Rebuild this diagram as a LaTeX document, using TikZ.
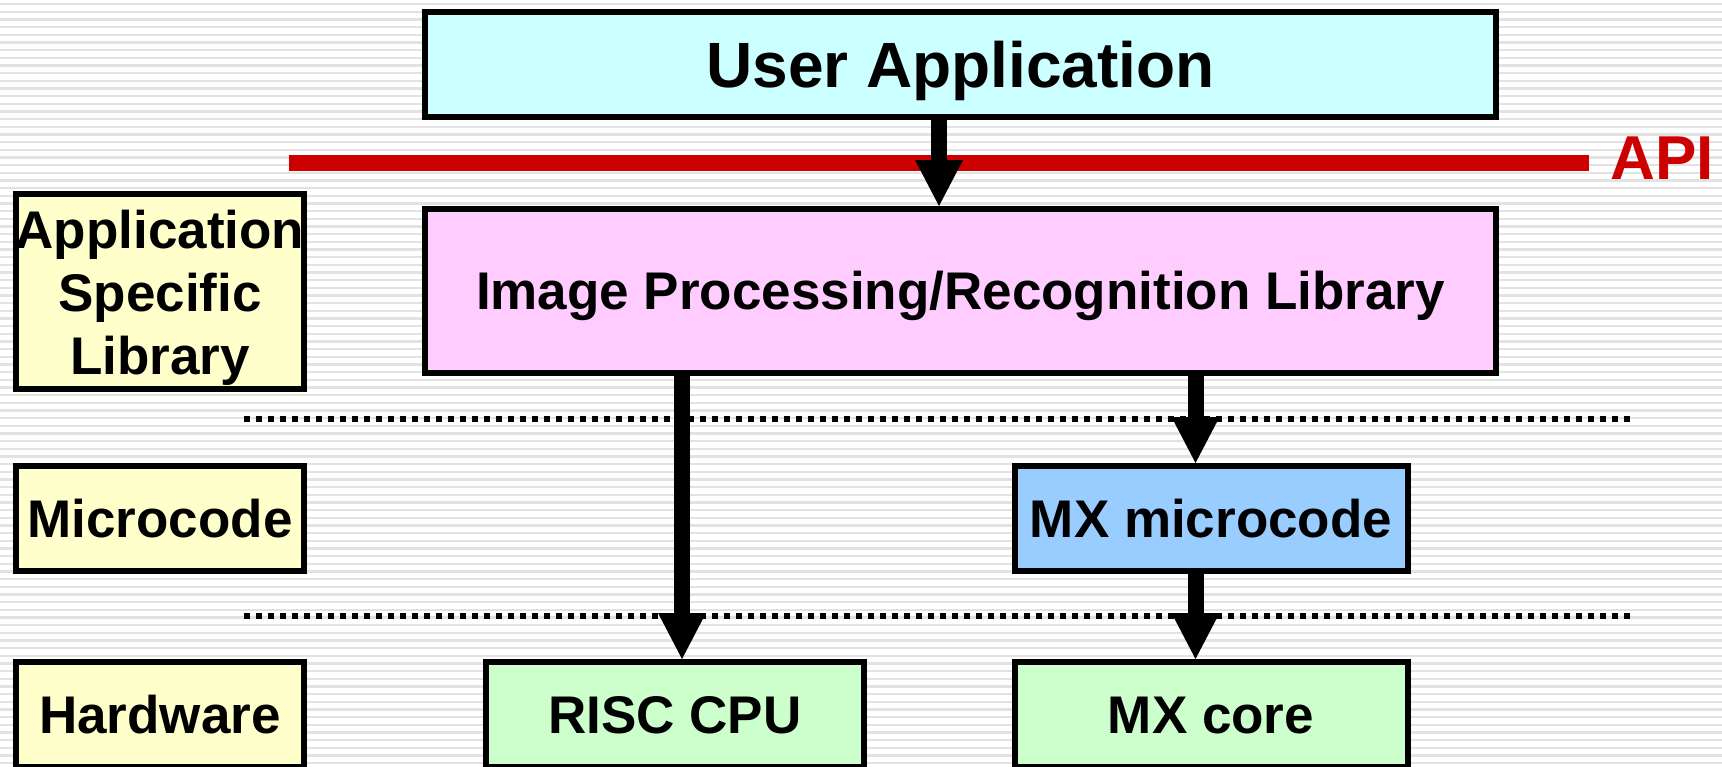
\documentclass[tikz,border=0pt]{standalone}
\usepackage{fontspec}
\setmainfont{Liberation Sans}
\usetikzlibrary{arrows.meta}
\definecolor{cyanbox}{HTML}{CCFFFF}
\definecolor{pinkbox}{HTML}{FFCCFF}
\definecolor{yellowbox}{HTML}{FFFFCC}
\definecolor{bluebox}{HTML}{99CCFF}
\definecolor{greenbox}{HTML}{CCFFCC}
\definecolor{apired}{HTML}{CC0000}
\definecolor{stripe}{HTML}{E2E2E2}
\tikzset{
  box/.style={draw=black, line width=3pt, inner sep=0pt, outer sep=1.5pt, align=center,
    font=\bfseries\fontsize{26.5pt}{31.5pt}\selectfont},
  capbox/.style={box, text height=18.97pt, text depth=0pt},
  boxtext/.style={inner sep=0pt, align=center, font=\bfseries\fontsize{26.5pt}{31.5pt}\selectfont},
  bigarrow/.style={line width=8pt, -{Triangle[length=23pt,width=24pt,line width=0pt]}},
  dotline/.style={line width=3pt, dash pattern=on 3pt off 3pt},
  apiline/.style={apired, line width=8pt},
}
\begin{document}
\begin{tikzpicture}[x=0.5pt,y=-0.5pt]
\useasboundingbox (0,0) rectangle (1722,766);
\clip (0,0) rectangle (1722,766);
% background stripes
\fill[white] (0,0) rectangle (1722,766);
\foreach \i in {0,...,100} {\fill[stripe] (0,{3+\i*7.667}) rectangle (1722,{5.2+\i*7.667});}
% API line
\draw[apiline] (289,163) -- (1589,163);
\node[anchor=base, text=apired, inner sep=0pt, font=\bfseries\fontsize{31pt}{31pt}\selectfont] (api) at (1662.5,179) {API};
% dotted separators
\draw[dotline] (244,419) -- (1631,419);
\draw[dotline] (244,616) -- (1631,616);
% boxes
\node[capbox, fill=cyanbox, minimum width=535.5pt, minimum height=52.5pt,
      font=\bfseries\fontsize{32pt}{32pt}\selectfont, text height=22.9pt] (ua) at (960.5,64.5) {User Application};
\node[capbox, fill=pinkbox, minimum width=535.5pt, minimum height=82pt] (ipl) at (960.5,291) {Image Processing/Recognition Library};
\node[box, fill=yellowbox, minimum width=144pt, minimum height=97.5pt] (asl) at (160,291.5) {};
\node[boxtext] (asltext) at (160,297.5) {Application\\Specific\\Library};
\node[capbox, fill=yellowbox, minimum width=144pt, minimum height=52.5pt] (mc) at (160,518.5) {Microcode};
\node[capbox, fill=yellowbox, minimum width=144pt, minimum height=52.5pt] (hw) at (160,714.5) {Hardware};
\node[capbox, fill=bluebox, minimum width=196.5pt, minimum height=52.5pt] (mxm) at (1211,518.5) {MX microcode};
\node[capbox, fill=greenbox, minimum width=189pt, minimum height=52.5pt] (risc) at (675,714.5) {RISC CPU};
\node[capbox, fill=greenbox, minimum width=196.5pt, minimum height=52.5pt] (mxc) at (1211,714.5) {MX core};
% arrow x positions
\coordinate (xa) at (939,0);
\coordinate (xb) at (682,0);
\coordinate (xc) at (1195.5,0);
% arrows
\draw[bigarrow] (ua.south -| xa) -- (ipl.north -| xa);
\draw[bigarrow] (ipl.south -| xb) -- (risc.north -| xb);
\draw[bigarrow] (ipl.south -| xc) -- (mxm.north -| xc);
\draw[bigarrow] (mxm.south -| xc) -- (mxc.north -| xc);
\end{tikzpicture}
\end{document}
